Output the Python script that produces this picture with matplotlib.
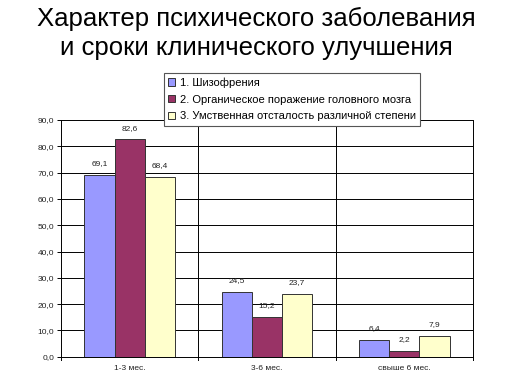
import matplotlib
matplotlib.use("Agg")
import matplotlib.pyplot as plt
import numpy as np

plt.rcParams['font.family'] = ['Liberation Sans', 'DejaVu Sans']

categories = ["1-3 мес.", "3-6 мес.", "свыше 6 мес."]
series_names = ["1. Шизофрения",
                "2. Органическое поражение головного мозга",
                "3. Умственная отсталость различной степени"]
schizo = [69.1, 24.5, 6.4]
organic = [82.6, 15.2, 2.2]
mental = [68.4, 23.7, 7.9]
colors = ["#9999FF", "#993366", "#FFFFCC"]

fig = plt.figure(figsize=(5.12, 3.84), dpi=100)
ax = fig.add_axes([61/512, 1-356.7/384, (473-61)/512, (356.7-120)/384])

x = np.arange(len(categories))
w = 0.22
data = [schizo, organic, mental]
for i, (vals, c, name) in enumerate(zip(data, colors, series_names)):
    bars = ax.bar(x + (i-1)*w, vals, w, color=c, edgecolor="#333333", linewidth=0.7, label=name, zorder=3)
    for b, v in zip(bars, vals):
        ax.text(b.get_x()+b.get_width()/2, v + 3.0, f"{v:.1f}".replace(".", ","),
                ha="center", va="bottom", fontsize=6, color="#222222")

ax.set_xlim(-0.5, 2.5)
ax.set_ylim(0, 90)
ax.set_yticks(np.arange(0, 91, 10))
ax.set_yticklabels([f"{v:.1f}".replace(".", ",") for v in np.arange(0, 91, 10)], fontsize=6, color="#222222")
ax.set_xticks(x)
ax.set_xticklabels(categories, fontsize=6, color="#222222")
ax.tick_params(axis='x', length=0, pad=6)
ax.tick_params(axis='y', length=3, width=0.7, pad=2)
for yv in np.arange(10, 91, 10):
    ax.axhline(yv, color="black", linewidth=0.7, zorder=1)
for xv in [0.5, 1.5, 2.5]:
    ax.plot([xv, xv], [0, 90], color="black", linewidth=0.7, zorder=1, clip_on=False)
    ax.plot([xv, xv], [0, -1.2], color="black", linewidth=0.7, clip_on=False)
ax.plot([-0.5, -0.5], [0, -1.2], color="black", linewidth=0.7, clip_on=False)
for s in ["top", "right"]:
    ax.spines[s].set_visible(False)
for s in ["left", "bottom"]:
    ax.spines[s].set_linewidth(0.7)

fig.text(0.5, 1-19/384, "Характер психического заболевания", ha="center", va="center", fontsize=18.5)
fig.text(0.5, 1-48/384, "и сроки клинического улучшения", ha="center", va="center", fontsize=18.5)

leg = fig.legend(loc="upper left", bbox_to_anchor=(164/512, 1-73/384), fontsize=8,
                 frameon=True, fancybox=False, edgecolor="#555555", framealpha=1,
                 handlelength=0.6, handleheight=0.6, handletextpad=0.4, labelspacing=0.6,
                 borderpad=0.4, borderaxespad=0)
leg.get_frame().set_linewidth(0.8)
leg.set_zorder(10)

fig.savefig("out.png", dpi=100)
